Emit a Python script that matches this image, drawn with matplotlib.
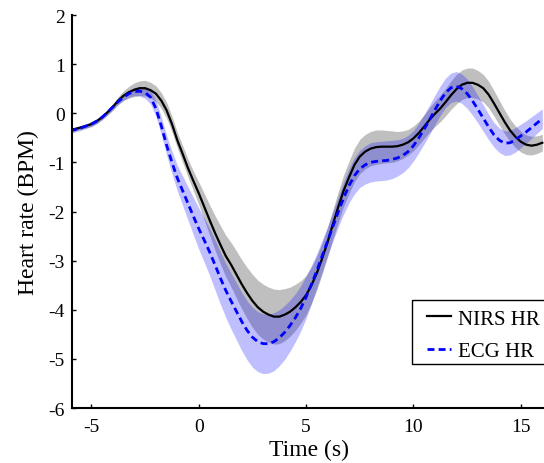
import numpy as np
import matplotlib
matplotlib.use("Agg")
import matplotlib.pyplot as plt
from matplotlib.patches import Rectangle

plt.rcParams['font.family'] = ['Liberation Serif', 'DejaVu Serif']

# time axis (s), 0.25 s sampling
time_s = np.linspace(-6, 16, 89)

nirs_hr = [
    -0.34, -0.32, -0.29, -0.26, -0.22, -0.16, -0.08, 0.02,
    0.13, 0.26, 0.36, 0.43, 0.48, 0.51, 0.51, 0.47,
    0.40, 0.26, 0.06, -0.22, -0.55, -0.83, -1.12, -1.38,
    -1.63, -1.90, -2.17, -2.43, -2.67, -2.90, -3.08, -3.28,
    -3.48, -3.66, -3.82, -3.95, -4.04, -4.10, -4.14, -4.14,
    -4.10, -4.04, -3.95, -3.84, -3.70, -3.50, -3.25, -2.95,
    -2.62, -2.25, -1.90, -1.57, -1.30, -1.05, -0.88, -0.78,
    -0.72, -0.69, -0.68, -0.68, -0.68, -0.67, -0.64, -0.59,
    -0.51, -0.40, -0.27, -0.13, -0.01, 0.10, 0.23, 0.37,
    0.49, 0.58, 0.62, 0.62, 0.58, 0.51, 0.38, 0.20,
    0.01, -0.18, -0.35, -0.48, -0.58, -0.64, -0.66, -0.64,
    -0.60]
nirs_err = [
    0.04, 0.04, 0.04, 0.04, 0.05, 0.05, 0.05, 0.06,
    0.07, 0.08, 0.10, 0.12, 0.14, 0.15, 0.16, 0.16,
    0.16, 0.16, 0.16, 0.16, 0.16, 0.17, 0.18, 0.20,
    0.23, 0.27, 0.31, 0.35, 0.39, 0.42, 0.45, 0.48,
    0.50, 0.52, 0.54, 0.55, 0.56, 0.56, 0.56, 0.55,
    0.53, 0.50, 0.47, 0.43, 0.40, 0.37, 0.34, 0.32,
    0.30, 0.30, 0.31, 0.32, 0.33, 0.34, 0.35, 0.35,
    0.35, 0.35, 0.34, 0.33, 0.32, 0.30, 0.28, 0.26,
    0.25, 0.24, 0.24, 0.25, 0.26, 0.27, 0.28, 0.29,
    0.30, 0.30, 0.30, 0.30, 0.29, 0.28, 0.27, 0.26,
    0.25, 0.24, 0.23, 0.22, 0.21, 0.20, 0.19, 0.18,
    0.17]

ecg_hr = [
    -0.36, -0.33, -0.30, -0.26, -0.22, -0.16, -0.08, 0.02,
    0.13, 0.24, 0.33, 0.40, 0.44, 0.45, 0.42, 0.33,
    0.10, -0.25, -0.65, -1.00, -1.32, -1.58, -1.84, -2.10,
    -2.35, -2.58, -2.82, -3.08, -3.35, -3.60, -3.82, -4.03,
    -4.24, -4.42, -4.56, -4.65, -4.69, -4.69, -4.65, -4.57,
    -4.46, -4.32, -4.16, -3.97, -3.74, -3.48, -3.20, -2.90,
    -2.60, -2.30, -2.00, -1.72, -1.47, -1.27, -1.13, -1.05,
    -1.00, -0.98, -0.97, -0.96, -0.94, -0.91, -0.86, -0.78,
    -0.66, -0.50, -0.32, -0.13, 0.07, 0.26, 0.42, 0.52,
    0.55, 0.50, 0.40, 0.25, 0.08, -0.10, -0.28, -0.44,
    -0.55, -0.61, -0.60, -0.54, -0.46, -0.38, -0.29, -0.20,
    -0.11]
ecg_err = [
    0.05, 0.05, 0.05, 0.05, 0.05, 0.05, 0.05, 0.05,
    0.05, 0.06, 0.06, 0.07, 0.08, 0.10, 0.12, 0.14,
    0.16, 0.18, 0.20, 0.23, 0.26, 0.30, 0.34, 0.38,
    0.42, 0.45, 0.48, 0.51, 0.53, 0.55, 0.57, 0.58,
    0.59, 0.60, 0.61, 0.61, 0.61, 0.60, 0.59, 0.57,
    0.55, 0.52, 0.49, 0.46, 0.43, 0.39, 0.35, 0.32,
    0.30, 0.30, 0.31, 0.33, 0.35, 0.37, 0.38, 0.39,
    0.40, 0.40, 0.40, 0.40, 0.39, 0.37, 0.35, 0.33,
    0.31, 0.30, 0.30, 0.30, 0.30, 0.30, 0.30, 0.30,
    0.30, 0.30, 0.30, 0.29, 0.28, 0.27, 0.26, 0.25,
    0.25, 0.25, 0.25, 0.25, 0.24, 0.23, 0.22, 0.21,
    0.20]

x_ticks = [-5, 0, 5, 10, 15]
y_ticks = [-6, -5, -4, -3, -2, -1, 0, 1, 2]

nirs = np.array(nirs_hr); nerr = np.array(nirs_err)
ecg = np.array(ecg_hr); eerr = np.array(ecg_err)

fig = plt.figure(figsize=(5.44, 4.64), dpi=100)
ax = fig.add_axes([0.1318, 0.1185, 0.873, 0.847])

ax.fill_between(time_s, nirs - nerr, nirs + nerr, color='k', alpha=0.25, linewidth=0)
ax.fill_between(time_s, ecg - eerr, ecg + eerr, color='b', alpha=0.25, linewidth=0)
ax.plot(time_s, nirs, color='k', lw=1.6, label='NIRS HR')
ax.plot(time_s, ecg, color='b', lw=2, ls=(0, (2.5, 1.5)), label='ECG HR')

ax.set_xlim(-5.92, 16.2)
ax.set_ylim(-6, 2)
ax.set_xticks(x_ticks)
ax.set_yticks(y_ticks)
ax.set_yticklabels([str(v) for v in y_ticks])
ax.set_xticklabels([str(v) for v in x_ticks])
for s in ['top', 'right']:
    ax.spines[s].set_visible(False)
for s in ['left', 'bottom']:
    ax.spines[s].set_linewidth(1.5)
ax.tick_params(direction='in', length=3, width=1, labelsize=14)
ax.tick_params(axis='y', pad=5)
ax.tick_params(axis='x', pad=7)
ax.set_xlabel('Time (s)', fontsize=17, labelpad=3)
ax.set_ylabel('Heart rate (BPM)', fontsize=17, labelpad=7)

# legend frame (extends past the right edge, as in the reference)
frame = Rectangle((0.7164, 0.112), 0.30, 0.163, transform=ax.transAxes,
                  facecolor='white', edgecolor='k', linewidth=1.0,
                  clip_on=False, zorder=4)
ax.add_patch(frame)
leg = ax.legend(loc='upper left', bbox_to_anchor=(0.748, 0.252), borderaxespad=0,
                fontsize=15, handlelength=1.15, frameon=False,
                borderpad=0, labelspacing=0.62, handletextpad=0.35)
leg.set_zorder(5)

fig.savefig('out.png', dpi=100)
